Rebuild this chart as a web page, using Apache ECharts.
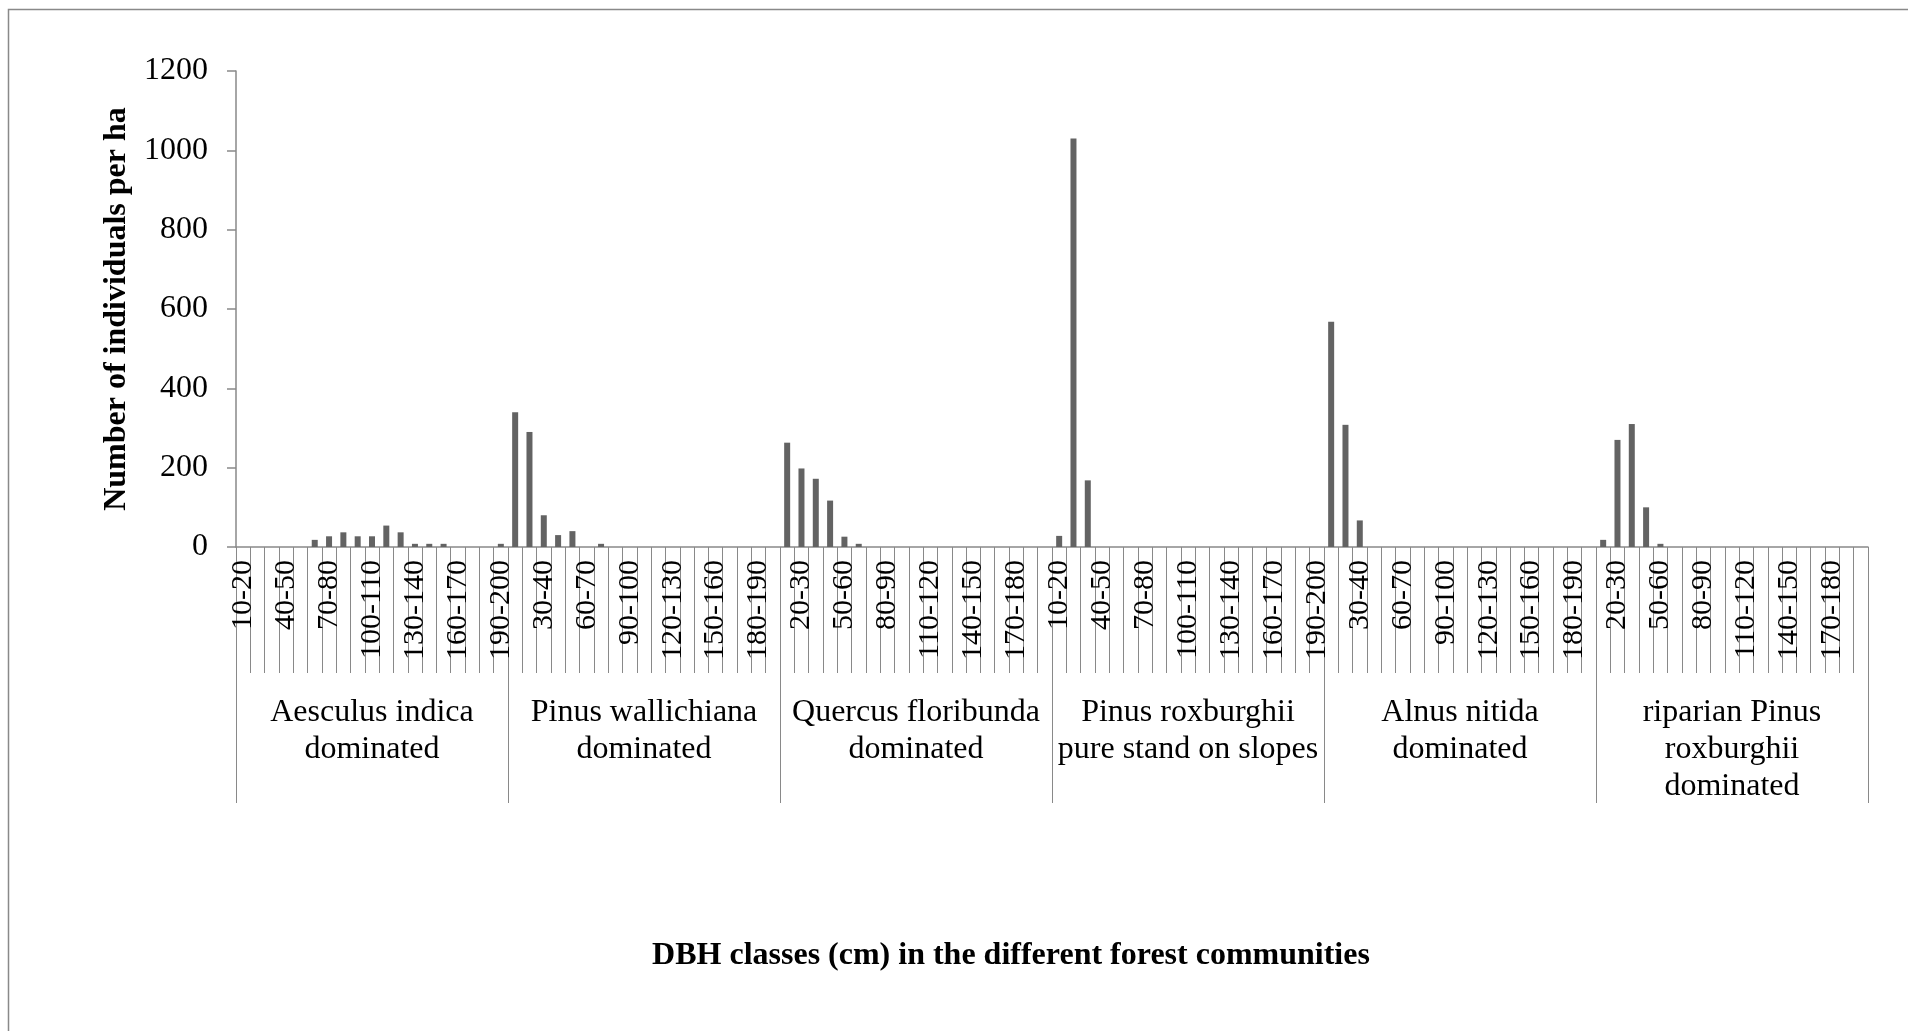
<!DOCTYPE html>
<html>
<head>
<meta charset="utf-8">
<script src="https://cdn.jsdelivr.net/npm/echarts@6/dist/echarts.min.js"></script>
<style>
html,body{margin:0;padding:0;background:#fff;}
#chart{width:1908px;height:1031px;}
</style>
</head>
<body>
<div id="chart"></div>
<script>
// DBH classes (cm) within each community
const dbhClasses = ['10-20','20-30','30-40','40-50','50-60','60-70','70-80','80-90','90-100','100-110',
  '110-120','120-130','130-140','140-150','150-160','160-170','170-180','180-190','190-200'];
// Forest communities (group labels)
const communities = [
  'Aesculus indica\ndominated',
  'Pinus wallichiana\ndominated',
  'Quercus floribunda\ndominated',
  'Pinus roxburghii\npure stand on slopes',
  'Alnus nitida\ndominated',
  'riparian Pinus\nroxburghii\ndominated'
];
// Number of individuals per ha, per DBH class
const aesculusIndica     = [0,0,0,0,0,18,27,37,27,27,54,37,8,8,8,0,0,0,8];
const pinusWallichiana   = [340,290,80,30,40,0,8,0,0,0,0,0,0,0,0,0,0,0,0];
const quercusFloribunda  = [263,198,172,117,26,8,0,0,0,0,0,0,0,0,0,0,0,0,0];
const pinusRoxburghiiPure= [28,1030,168,0,0,0,0,0,0,0,0,0,0,0,0,0,0,0,0];
const alnusNitida        = [568,308,67,0,0,0,0,0,0,0,0,0,0,0,0,0,0,0,0];
const riparianPinus      = [18,270,310,100,8,0,0,0,0,0,0,0,0,0,0,0,0,0,0];
const yTicks = {min:0, max:1200, interval:200};

const groupValues = [aesculusIndica, pinusWallichiana, quercusFloribunda, pinusRoxburghiiPure, alnusNitida, riparianPinus];
const categories = [];
const values = [];
groupValues.forEach(function(g){
  dbhClasses.forEach(function(c, i){ categories.push(c); values.push(g[i]); });
});

const FONT = "'Liberation Serif', 'Times New Roman', serif";
const LINE = '#898989';

const chart = echarts.init(document.getElementById('chart'), null, {renderer:'canvas'});
chart.setOption({
  animation: false,
  backgroundColor: '#fff',
  grid: {left: 236, right: 40, top: 71, bottom: 484, containLabel: false},
  xAxis: [
    {
      type: 'category',
      data: categories,
      position: 'bottom',
      boundaryGap: true,
      axisLine: {show: true, lineStyle: {color: LINE, width: 1.5}},
      axisTick: {show: true, interval: 0, length: 126, lineStyle: {color: LINE, width: 1}},
      axisLabel: {
        interval: 2, rotate: 90, margin: 13, fontSize: 30, color: '#000',
        fontFamily: FONT, hideOverlap: false
      },
      splitLine: {show: false}
    },
    {
      type: 'category',
      data: communities,
      position: 'bottom',
      boundaryGap: true,
      axisLine: {show: false},
      axisTick: {show: true, interval: 0, length: 256, lineStyle: {color: LINE, width: 1}},
      axisLabel: {
        interval: 0, margin: 147, fontSize: 32, lineHeight: 37, color: '#000',
        fontFamily: FONT, align: 'center', verticalAlign: 'top', hideOverlap: false
      },
      splitLine: {show: false}
    }
  ],
  yAxis: {
    type: 'value',
    min: yTicks.min, max: yTicks.max, interval: yTicks.interval,
    name: 'Number of individuals per ha',
    nameLocation: 'middle',
    nameRotate: 90,
    nameGap: 93,
    nameTextStyle: {fontSize: 32, fontWeight: 'bold', color: '#000', fontFamily: FONT},
    axisLine: {show: true, lineStyle: {color: LINE, width: 1.5}},
    axisTick: {show: true, length: 9, lineStyle: {color: LINE, width: 1.5}},
    axisLabel: {fontSize: 32, color: '#000', fontFamily: FONT, margin: 28,
      formatter: function(v){ return String(v); }},
    splitLine: {show: false}
  },
  series: [{
    type: 'bar',
    xAxisIndex: 0,
    data: values,
    barWidth: 6,
    itemStyle: {color: '#636363'}
  }],
  graphic: [
    {
      type: 'rect',
      shape: {x: 8.5, y: 9.5, width: 2000, height: 2000},
      style: {fill: 'none', stroke: LINE, lineWidth: 1.5},
      silent: true
    },
    {
      type: 'text',
      x: 1011, y: 956,
      style: {
        text: 'DBH classes (cm) in the different forest communities',
        font: "bold 32px 'Liberation Serif', 'Times New Roman', serif",
        fill: '#000',
        textAlign: 'center',
        textVerticalAlign: 'middle'
      }
    }
  ]
});
</script>
</body>
</html>
